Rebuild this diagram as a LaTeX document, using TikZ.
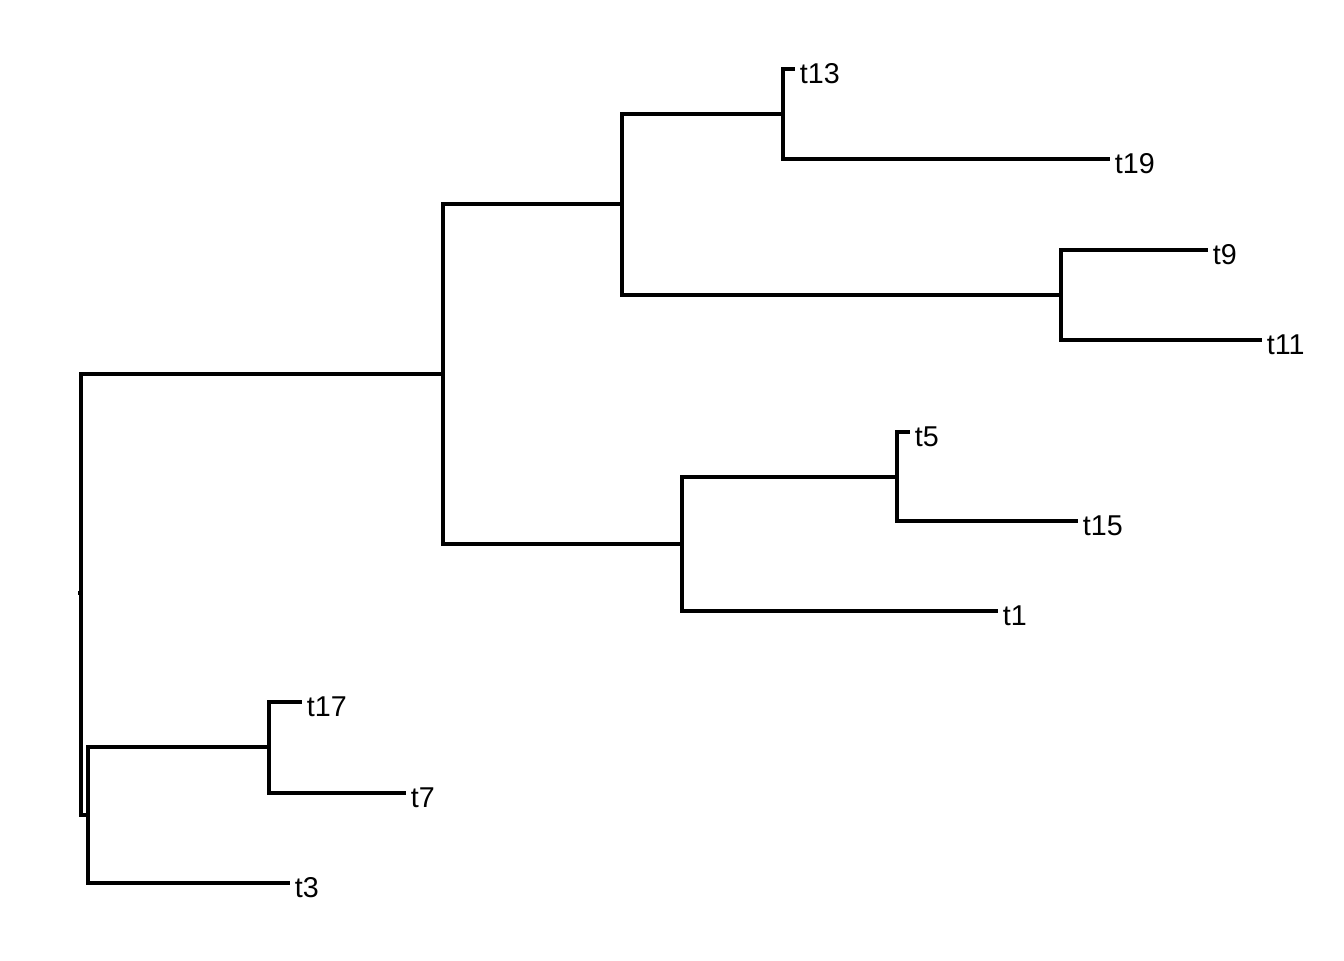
\documentclass[tikz,border=0pt]{standalone}
\usepackage{fontspec}
\setmainfont{Liberation Sans}
\usetikzlibrary{positioning}

\begin{document}
\begin{tikzpicture}[
            x = 0.75pt, y = -0.75pt, % one unit = one pixel
            branch/.style = {draw = black, line width = 2.3pt}, % tree edges
            leaf/.style = {anchor = west, inner xsep = 3.5pt, inner ysep = 0pt,
                text height = 21.5pt, text depth = 0pt, font = \fontsize{21.5}{24}\selectfont}
        ]

        \useasboundingbox (0,0) rectangle (1344,960);

        % internal nodes
        \coordinate (stub) at (78,593);
        \coordinate (root) at (81,593);
        \coordinate (A) at (443,374);
        \coordinate (B) at (622,204);
        \coordinate (C) at (783,114);
        \coordinate (D) at (1061,295);
        \coordinate (E) at (682,544);
        \coordinate (F) at (897,477);
        \coordinate (G) at (88,815);
        \coordinate (H) at (269,747);

        % tips
        \node[leaf] (t13) at (795,69) {t13};
        \node[leaf] (t19) at (1110,159) {t19};
        \node[leaf] (t9) at (1208,250) {t9};
        \node[leaf] (t11) at (1262,340) {t11};
        \node[leaf] (t5) at (910,432) {t5};
        \node[leaf] (t15) at (1078,521) {t15};
        \node[leaf] (t1) at (998,611) {t1};
        \node[leaf] (t17) at (302,702) {t17};
        \node[leaf] (t7) at (406,793) {t7};
        \node[leaf] (t3) at (290,883) {t3};

        \draw[branch] (stub) -- (root);
        \draw[branch] (root) |- (A);
        \draw[branch] (root) |- (G);
        \draw[branch] (A) |- (B);
        \draw[branch] (A) |- (E);
        \draw[branch] (B) |- (C);
        \draw[branch] (B) |- (D);
        \draw[branch] (C) |- (t13.west);
        \draw[branch] (C) |- (t19.west);
        \draw[branch] (D) |- (t9.west);
        \draw[branch] (D) |- (t11.west);
        \draw[branch] (E) |- (F);
        \draw[branch] (E) |- (t1.west);
        \draw[branch] (F) |- (t5.west);
        \draw[branch] (F) |- (t15.west);
        \draw[branch] (G) |- (H);
        \draw[branch] (G) |- (t3.west);
        \draw[branch] (H) |- (t17.west);
        \draw[branch] (H) |- (t7.west);

\end{tikzpicture}
\end{document}
